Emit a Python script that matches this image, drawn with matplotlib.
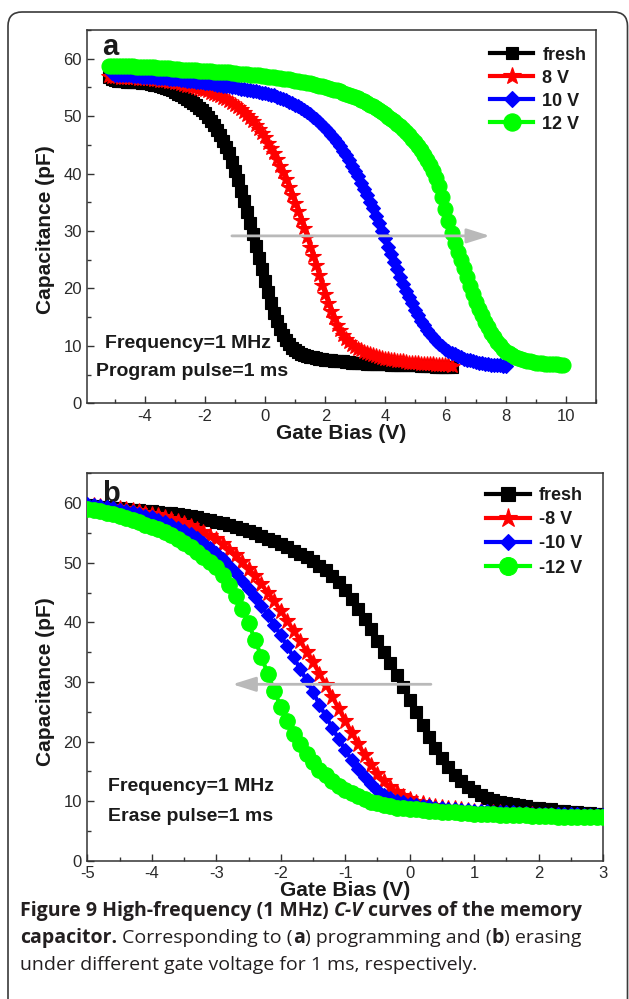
import numpy as np
import matplotlib
matplotlib.use("Agg")
import matplotlib.pyplot as plt
from matplotlib.patches import FancyBboxPatch
from matplotlib.ticker import MultipleLocator

plt.rcParams['font.family'] = ['Liberation Sans', 'DejaVu Sans']
plt.rcParams['axes.unicode_minus'] = False

# ---------------- data (gate sweep step 0.1 V) ----------------
STEP = 0.1
start_a = [-5.2, -5.2, -5.2, -5.2]
start_b = [-5.0, -5.0, -5.0, -5.0]
labels_a = ['fresh', '8 V', '10 V', '12 V']
labels_b = ['fresh', '-8 V', '-10 V', '-12 V']

cap_a_fresh = [
    56.8, 56.5, 56.3, 56.2, 56.1, 56.1, 56.0, 56.0, 56.0, 55.9, 55.9, 55.8, 55.8, 55.7, 55.6,
    55.5, 55.4, 55.3, 55.1, 54.9, 54.7, 54.5, 54.2, 53.9, 53.6, 53.3, 53.0, 52.7, 52.3, 51.9,
    51.5, 51.0, 50.5, 49.9, 49.2, 48.4, 47.6, 46.7, 45.7, 44.6, 43.5, 42.1, 40.5, 38.8, 37.0,
    35.2, 33.3, 31.4, 29.4, 27.4, 25.3, 23.3, 21.3, 19.3, 17.5, 15.8, 14.3, 13.0, 11.9, 11.0,
    10.3, 9.7, 9.3, 8.9, 8.6, 8.4, 8.2, 8.1, 8.0, 7.9, 7.8, 7.7, 7.6, 7.5, 7.5,
    7.4, 7.4, 7.3, 7.3, 7.2, 7.2, 7.1, 7.1, 7.0, 7.0, 7.0, 6.9, 6.9, 6.9, 6.9,
    6.8, 6.8, 6.8, 6.8, 6.7, 6.7, 6.7, 6.7, 6.7, 6.6, 6.6, 6.6, 6.6, 6.6, 6.5,
    6.5, 6.5, 6.5, 6.5, 6.4, 6.4, 6.4, 6.4, 6.4, 6.4]
cap_a_8v = [
    57.0, 56.9, 56.8, 56.8, 56.7, 56.7, 56.7, 56.6, 56.6, 56.6, 56.5, 56.5, 56.5, 56.4, 56.4,
    56.3, 56.3, 56.2, 56.1, 56.1, 56.0, 55.9, 55.8, 55.7, 55.6, 55.5, 55.3, 55.2, 55.1, 54.9,
    54.8, 54.6, 54.5, 54.3, 54.1, 53.9, 53.7, 53.5, 53.2, 52.9, 52.6, 52.3, 52.0, 51.6, 51.2,
    50.7, 50.2, 49.7, 49.1, 48.5, 47.8, 47.1, 46.3, 45.4, 44.5, 43.6, 42.5, 41.4, 40.2, 39.0,
    37.7, 36.3, 34.9, 33.5, 32.0, 30.5, 28.9, 27.3, 25.6, 24.0, 22.3, 20.6, 19.0, 17.5, 16.1,
    14.8, 13.7, 12.7, 11.9, 11.2, 10.6, 10.2, 9.8, 9.5, 9.2, 9.0, 8.7, 8.5, 8.4, 8.2,
    8.1, 7.9, 7.8, 7.7, 7.6, 7.5, 7.4, 7.3, 7.3, 7.2, 7.1, 7.1, 7.0, 7.0, 6.9,
    6.9, 6.8, 6.8, 6.8, 6.7, 6.7, 6.7, 6.6, 6.6, 6.5]
cap_a_10v = [
    58.3, 57.5, 57.2, 57.2, 57.2, 57.1, 57.1, 57.1, 57.0, 57.0, 57.0, 56.9, 56.9, 56.9, 56.8,
    56.8, 56.7, 56.7, 56.6, 56.6, 56.5, 56.5, 56.4, 56.4, 56.3, 56.3, 56.2, 56.1, 56.1, 56.0,
    55.9, 55.9, 55.8, 55.7, 55.7, 55.6, 55.5, 55.4, 55.3, 55.3, 55.2, 55.1, 55.0, 54.9, 54.8,
    54.7, 54.6, 54.5, 54.4, 54.3, 54.2, 54.1, 54.0, 53.9, 53.7, 53.6, 53.4, 53.2, 53.0, 52.8,
    52.5, 52.3, 52.0, 51.7, 51.4, 51.0, 50.7, 50.3, 49.9, 49.5, 49.0, 48.5, 48.0, 47.4, 46.8,
    46.2, 45.5, 44.8, 44.0, 43.2, 42.3, 41.4, 40.5, 39.5, 38.4, 37.3, 36.2, 35.1, 34.0, 32.7,
    31.4, 30.0, 28.7, 27.3, 26.0, 24.6, 23.3, 22.0, 20.8, 19.6, 18.5, 17.4, 16.3, 15.3, 14.4,
    13.6, 12.8, 12.1, 11.5, 10.9, 10.4, 9.9, 9.5, 9.1, 8.8, 8.5, 8.2, 8.0, 7.8, 7.6,
    7.5, 7.3, 7.2, 7.1, 7.0, 6.9, 6.8, 6.7, 6.7, 6.6, 6.6, 6.5, 6.5]
cap_a_12v = [
    58.8, 58.8, 58.8, 58.8, 58.7, 58.7, 58.7, 58.7, 58.7, 58.6, 58.6, 58.6, 58.6, 58.5, 58.5,
    58.5, 58.4, 58.4, 58.4, 58.3, 58.3, 58.2, 58.2, 58.2, 58.1, 58.1, 58.1, 58.0, 58.0, 58.0,
    57.9, 57.9, 57.9, 57.8, 57.8, 57.7, 57.7, 57.7, 57.6, 57.6, 57.6, 57.5, 57.5, 57.4, 57.4,
    57.3, 57.3, 57.2, 57.2, 57.1, 57.1, 57.0, 57.0, 56.9, 56.8, 56.8, 56.7, 56.6, 56.5, 56.5,
    56.4, 56.3, 56.2, 56.1, 56.0, 55.9, 55.8, 55.7, 55.6, 55.4, 55.3, 55.2, 55.0, 54.9, 54.8,
    54.6, 54.5, 54.3, 54.1, 53.9, 53.7, 53.5, 53.3, 53.1, 52.8, 52.6, 52.3, 52.0, 51.7, 51.4,
    51.0, 50.7, 50.3, 49.9, 49.5, 49.1, 48.7, 48.3, 47.8, 47.2, 46.7, 46.1, 45.5, 44.8, 44.1,
    43.3, 42.4, 41.5, 40.5, 39.3, 37.8, 36.0, 33.9, 31.7, 29.6, 27.9, 26.3, 24.9, 23.5, 22.0,
    20.5, 19.0, 17.7, 16.5, 15.3, 14.2, 13.2, 12.3, 11.5, 10.7, 10.1, 9.5, 9.0, 8.7, 8.4,
    8.1, 7.9, 7.7, 7.6, 7.4, 7.3, 7.2, 7.1, 7.0, 7.0, 6.9, 6.9, 6.8, 6.8, 6.8,
    6.7, 6.7]

cap_b_fresh = [
    59.6, 59.5, 59.4, 59.3, 59.2, 59.1, 59.0, 58.9, 58.8, 58.7, 58.6, 58.5, 58.4, 58.3, 58.1,
    58.0, 57.8, 57.6, 57.4, 57.2, 56.9, 56.6, 56.3, 56.0, 55.7, 55.3, 54.9, 54.5, 54.0, 53.6,
    53.1, 52.6, 52.0, 51.5, 50.9, 50.3, 49.5, 48.7, 47.8, 46.7, 45.4, 43.9, 42.3, 40.6, 38.8,
    36.9, 35.0, 33.1, 31.2, 29.1, 27.0, 24.9, 22.8, 20.8, 18.9, 17.2, 15.7, 14.4, 13.3, 12.4,
    11.7, 11.1, 10.6, 10.2, 9.9, 9.7, 9.5, 9.3, 9.1, 8.9, 8.8, 8.7, 8.6, 8.4, 8.3,
    8.2, 8.1, 8.0, 8.0, 7.9, 7.8]
cap_b_8v = [
    59.7, 59.6, 59.5, 59.4, 59.3, 59.1, 59.0, 58.8, 58.6, 58.4, 58.2, 58.0, 57.7, 57.4, 57.0,
    56.6, 56.2, 55.7, 55.1, 54.5, 53.9, 53.1, 52.2, 51.3, 50.2, 49.0, 47.8, 46.4, 45.0, 43.5,
    41.9, 40.3, 38.6, 36.9, 35.1, 33.3, 31.4, 29.5, 27.5, 25.5, 23.5, 21.5, 19.6, 17.8, 16.1,
    14.6, 13.3, 12.3, 11.5, 10.8, 10.3, 9.9, 9.6, 9.4, 9.2, 9.0, 8.9, 8.8, 8.6, 8.5,
    8.4, 8.3, 8.2, 8.1, 8.1, 8.0, 7.9, 7.9, 7.8, 7.8, 7.7, 7.7, 7.6, 7.6, 7.5,
    7.5, 7.4, 7.4, 7.4, 7.3, 7.3]
cap_b_10v = [
    59.8, 59.6, 59.5, 59.3, 59.1, 58.9, 58.7, 58.5, 58.2, 57.9, 57.6, 57.2, 56.8, 56.4, 55.9,
    55.4, 54.8, 54.1, 53.3, 52.5, 51.6, 50.6, 49.5, 48.3, 47.0, 45.6, 44.2, 42.8, 41.2, 39.6,
    37.8, 36.0, 34.1, 32.2, 30.3, 28.3, 26.2, 24.2, 22.3, 20.4, 18.6, 16.9, 15.4, 14.0, 12.9,
    11.9, 11.1, 10.5, 10.1, 9.8, 9.5, 9.4, 9.2, 9.1, 8.9, 8.8, 8.7, 8.6, 8.5, 8.5,
    8.4, 8.3, 8.3, 8.2, 8.2, 8.1, 8.1, 8.0, 8.0, 7.9, 7.9, 7.9, 7.9, 7.8, 7.8,
    7.8, 7.8, 7.7, 7.7, 7.7, 7.7]
cap_b_12v = [
    59.0, 58.8, 58.6, 58.3, 58.1, 57.8, 57.5, 57.1, 56.8, 56.4, 56.0, 55.6, 55.1, 54.6, 54.0,
    53.3, 52.6, 51.8, 51.0, 50.2, 49.2, 47.9, 46.3, 44.4, 42.2, 39.8, 37.1, 34.2, 31.3, 28.5,
    25.8, 23.4, 21.3, 19.5, 17.9, 16.5, 15.3, 14.3, 13.4, 12.6, 11.9, 11.3, 10.8, 10.3, 9.9,
    9.6, 9.3, 9.1, 8.9, 8.8, 8.7, 8.6, 8.5, 8.4, 8.3, 8.2, 8.1, 8.1, 8.0, 8.0,
    7.9, 7.9, 7.8, 7.8, 7.7, 7.7, 7.7, 7.6, 7.6, 7.5, 7.5, 7.5, 7.5, 7.4, 7.4,
    7.4, 7.4, 7.3, 7.3, 7.3, 7.3]

series_a = [cap_a_fresh, cap_a_8v, cap_a_10v, cap_a_12v]
series_b = [cap_b_fresh, cap_b_8v, cap_b_10v, cap_b_12v]

# ---------------- styling ----------------
W, H = 629, 999
colors = ['#000000', '#ff0000', '#0000ff', '#00ff00']
markers = ['s', '*', 'D', 'o']
msizes_a = [8.0, 11.5, 7.3, 10.8]
msizes_b = [8.8, 12.0, 7.5, 11.2]
TXT = '#1a1a1a'

fig = plt.figure(figsize=(W / 100, H / 100), dpi=100)
fig.patch.set_facecolor('white')

# outer rounded frame
frame = FancyBboxPatch((8, -40), 619.5, 987 + 40,
                       boxstyle='round,pad=0,rounding_size=14',
                       transform=None, fill=False, edgecolor='#3a3a3a',
                       linewidth=1.2)
fig.add_artist(frame)


def px_axes(left, right, top, bottom):
    return [left / W, 1 - bottom / H, (right - left) / W, (bottom - top) / H]


def style_axes(ax, xmaj, xmin):
    for s in ax.spines.values():
        s.set_color('#333333')
        s.set_linewidth(1.1)
    ax.xaxis.set_major_locator(MultipleLocator(xmaj))
    ax.xaxis.set_minor_locator(MultipleLocator(xmin))
    ax.yaxis.set_major_locator(MultipleLocator(10))
    ax.yaxis.set_minor_locator(MultipleLocator(5))
    ax.tick_params(which='both', direction='in', top=False, right=False,
                   colors='#333333', labelcolor='#2a2a2a', labelsize=12)
    ax.tick_params(which='major', length=5, width=1.0, pad=4.0)
    ax.tick_params(which='minor', length=3, width=1.0)
    ax.set_ylim(0, 65)
    ax.set_xlabel('Gate Bias (V)', fontsize=15, fontweight='bold', color=TXT)
    ax.set_ylabel('Capacitance (pF)', fontsize=15, fontweight='bold', color=TXT)


def draw_panel(ax, starts, series, labels, msizes):
    for i, (st, cap) in enumerate(zip(starts, series)):
        v = np.round(st + STEP * np.arange(len(cap)), 2)
        ax.plot(v, cap, color=colors[i], marker=markers[i], markersize=msizes[i],
                markeredgecolor=colors[i], markerfacecolor=colors[i],
                markeredgewidth=0.8, linewidth=3, label=labels[i], zorder=2 + i)


# ---------- panel a ----------
ax_a = fig.add_axes(px_axes(87.4, 595.7, 30, 403.3))
draw_panel(ax_a, start_a, series_a, labels_a, msizes_a)
ax_a.set_xlim(-5.92, 11.0)
style_axes(ax_a, 2, 1)
ax_a.xaxis.set_label_coords(0.5, -30 / 373.3)
ax_a.xaxis.label.set_va('center')
ax_a.yaxis.set_label_coords((46 - 87.4) / 508.3, (403.3 - 230) / 373.3)
ax_a.yaxis.label.set_va('center')
ax_a.annotate('', xy=(7.48, 29.15), xytext=(-1.11, 29.15),
              arrowprops=dict(arrowstyle='-|>,head_length=0.7,head_width=0.22',
                              color='#b9b9b9', lw=2.0, mutation_scale=20,
                              shrinkA=0, shrinkB=0), zorder=10)
ax_a.text(0.0287, 0.933, 'a', transform=ax_a.transAxes, fontsize=21,
          fontweight='bold', color=TXT, va='baseline', ha='left')
ax_a.text(0.0356, 0.1615, 'Frequency=1 MHz', transform=ax_a.transAxes,
          fontsize=14, fontweight='bold', color=TXT, va='center', ha='left')
ax_a.text(0.0169, 0.0865, 'Program pulse=1 ms', transform=ax_a.transAxes,
          fontsize=14, fontweight='bold', color=TXT, va='center', ha='left')
leg_a = ax_a.legend(loc='upper left', bbox_to_anchor=(0.792, 0.955),
                    frameon=False, borderpad=0, borderaxespad=0,
                    handlelength=2.4, handletextpad=0.5, labelspacing=0.33,
                    markerscale=1.15, prop={'weight': 'bold', 'size': 13})
for t in leg_a.get_texts():
    t.set_color(TXT)

# ---------- panel b ----------
ax_b = fig.add_axes(px_axes(87.4, 603, 473.3, 860.7))
draw_panel(ax_b, start_b, series_b, labels_b, msizes_b)
ax_b.set_xlim(-5, 3)
style_axes(ax_b, 1, 0.5)
ax_b.xaxis.set_label_coords(0.5, -29.3 / 387.4)
ax_b.xaxis.label.set_va('center')
ax_b.yaxis.set_label_coords((46 - 87.4) / 515.6, (860.7 - 681.7) / 387.4)
ax_b.yaxis.label.set_va('center')
ax_b.annotate('', xy=(-2.75, 29.6), xytext=(0.33, 29.6),
              arrowprops=dict(arrowstyle='-|>,head_length=0.7,head_width=0.22',
                              color='#b9b9b9', lw=2.0, mutation_scale=20,
                              shrinkA=0, shrinkB=0), zorder=10)
ax_b.text(0.0283, 0.9267, 'b', transform=ax_b.transAxes, fontsize=21,
          fontweight='bold', color=TXT, va='baseline', ha='left')
ax_b.text(0.039, 0.191, 'Frequency=1 MHz', transform=ax_b.transAxes,
          fontsize=14, fontweight='bold', color=TXT, va='center', ha='left')
ax_b.text(0.039, 0.1136, 'Erase pulse=1 ms', transform=ax_b.transAxes,
          fontsize=14, fontweight='bold', color=TXT, va='center', ha='left')
leg_b = ax_b.legend(loc='upper left', bbox_to_anchor=(0.774, 0.965),
                    frameon=False, borderpad=0, borderaxespad=0,
                    handlelength=2.4, handletextpad=0.5, labelspacing=0.4,
                    markerscale=1.15, prop={'weight': 'bold', 'size': 13})
for t in leg_b.get_texts():
    t.set_color(TXT)

# ---------- caption ----------
CAP_FONT = ['Open Sans', 'DejaVu Sans']
CAP_SIZE = 14
CAP_COLOR = '#231f20'
renderer = fig.canvas.get_renderer()


def text_width(s, weight, style):
    t = fig.text(0, 0, s, fontsize=CAP_SIZE, fontweight=weight, fontstyle=style,
                 family=CAP_FONT)
    w = t.get_window_extent(renderer).width
    t.remove()
    return w


def rich_line(x_px, base_px, parts):
    x = x_px
    for s, weight, style in parts:
        lead = len(s) - len(s.lstrip(' '))
        core = s.strip(' ')
        trail = len(s) - len(s.rstrip(' '))
        sp = text_width('x x', weight, style) - text_width('xx', weight, style)
        x += lead * sp
        if core:
            t = fig.text(x / W, 1 - base_px / H, core, fontsize=CAP_SIZE,
                         fontweight=weight, fontstyle=style, family=CAP_FONT,
                         color=CAP_COLOR, va='baseline', ha='left')
            x += t.get_window_extent(renderer).width
        x += trail * sp


rich_line(20, 915.7, [('Figure 9 High-frequency (1 MHz) ', 'bold', 'normal'),
                      ('C-V', 'bold', 'italic'),
                      (' curves of the memory', 'bold', 'normal')])
rich_line(20, 942.7, [('capacitor.', 'bold', 'normal'),
                      (' Corresponding to (', 'normal', 'normal'),
                      ('a', 'bold', 'normal'),
                      (') programming and (', 'normal', 'normal'),
                      ('b', 'bold', 'normal'),
                      (') erasing', 'normal', 'normal')])
rich_line(20, 970.0, [('under different gate voltage for 1 ms, respectively.', 'normal', 'normal')])

fig.savefig('out.png', dpi=100)
